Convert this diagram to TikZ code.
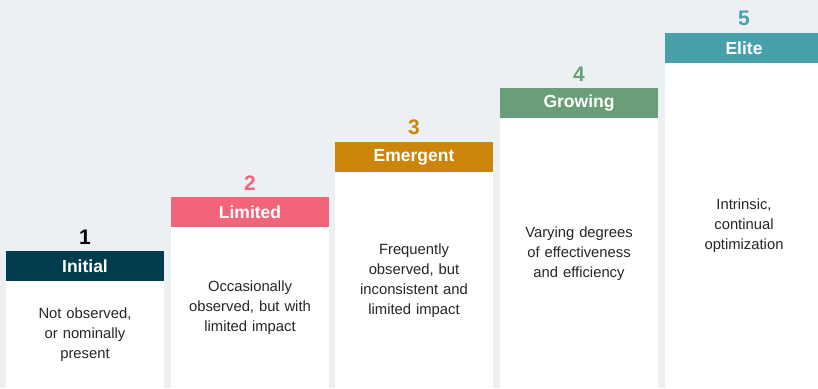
\documentclass[tikz,border=0pt]{standalone}
\usepackage{fontspec}
\setmainfont{Liberation Sans}
\usetikzlibrary{positioning}

\definecolor{pagebg}{HTML}{EDF0F3}
\definecolor{initialc}{HTML}{023D4F}
\definecolor{limitedc}{HTML}{F26479}
\definecolor{emergentc}{HTML}{CC850A}
\definecolor{growingc}{HTML}{6A9E78}
\definecolor{elitec}{HTML}{48A0AB}

\begin{document}
\begin{tikzpicture}[x=1pt,y=-1pt,
    head/.style={minimum width=158pt,minimum height=30pt,inner sep=0pt,text=white,
      font=\fontsize{17.5}{20}\selectfont\bfseries},
    lvl/.style={inner sep=0pt,font=\fontsize{21}{24}\selectfont\bfseries},
    card/.style={fill=white,minimum width=158pt,inner sep=0pt,text width=152pt,align=center,
      font=\fontsize{14.8}{20}\selectfont,text=black!85}]
      \fill[pagebg] (0,0) rectangle (818,388);
      \clip (0,0) rectangle (818,388);

      % level 1
      \node[head,fill=initialc] (H1) at (85,266) {Initial};
      \node[lvl,above=6.5pt of H1] (N1) {1};
      \node[card,minimum height=107pt,below=0pt of H1] (C1) {Not observed,\\ or nominally\\ present};

      % level 2
      \node[head,fill=limitedc] (H2) at (250,212) {Limited};
      \node[lvl,text=limitedc,above=6.5pt of H2] (N2) {2};
      \node[card,minimum height=161pt,below=0pt of H2] (C2) {Occasionally\\ observed, but with\\ limited impact};

      % level 3
      \node[head,fill=emergentc] (H3) at (414,157) {Emergent};
      \node[lvl,text=emergentc,above=6.5pt of H3] (N3) {3};
      \node[card,minimum height=216pt,below=0pt of H3] (C3) {Frequently\\ observed, but\\ inconsistent and\\ limited impact};

      % level 4
      \node[head,fill=growingc] (H4) at (579,103) {Growing};
      \node[lvl,text=growingc,above=6.5pt of H4] (N4) {4};
      \node[card,minimum height=270pt,below=0pt of H4] (C4) {Varying degrees\\ of effectiveness\\ and efficiency};

      % level 5
      \node[head,fill=elitec] (H5) at (744,48) {Elite};
      \node[lvl,text=elitec,above=6.5pt of H5] (N5) {5};
      \node[card,minimum height=325pt,below=0pt of H5] (C5) {Intrinsic,\\ continual\\ optimization};
    \end{tikzpicture}
\end{document}
